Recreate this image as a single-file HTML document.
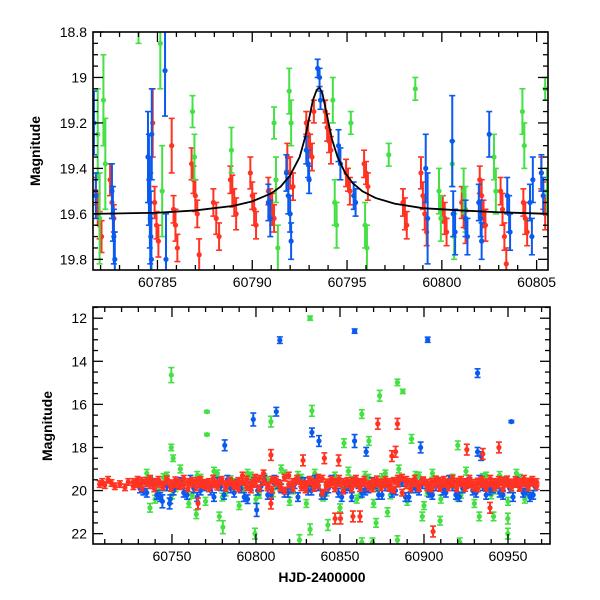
<!DOCTYPE html>
<html><head><meta charset="utf-8"><style>
html,body{margin:0;padding:0;background:#fff;}
svg{display:block;font-family:"Liberation Sans",sans-serif;}
</style></head><body>
<svg id="chart" width="600" height="600" viewBox="0 0 600 600" xmlns="http://www.w3.org/2000/svg">
<g id="top"></g>
<g id="bot"></g>
<text x="40" y="151" transform="rotate(-90 40 151)" text-anchor="middle" font-size="14" font-weight="bold">Magnitude</text>
<text x="52" y="426" transform="rotate(-90 52 426)" text-anchor="middle" font-size="14" font-weight="bold">Magnitude</text>
<text x="322" y="582" text-anchor="middle" font-size="14" font-weight="bold">HJD-2400000</text>
</svg>
<script>
// ---------- TOP PANEL DATA ----------
const topRedT=[60781.75,60781.85,60781.95,60782.05,60782.5,60782.6,60782.7,60784.75,60784.85,60784.95,60785.05,60785.75,60785.85,60785.95,60786.05,60786.8,60786.9,60787.0,60787.1,60787.2,60787.95,60788.1,60788.25,60788.85,60788.95,60789.05,60789.15,60789.9,60790.0,60790.1,60790.2,60790.85,60790.95,60791.05,60791.15,60791.85,60792.0,60792.15,60792.85,60792.95,60793.05,60793.15,60793.25,60793.85,60793.95,60794.05,60794.15,60794.95,60795.05,60795.15,60795.9,60796.0,60796.1,60797.95,60798.05,60798.15,60798.9,60799.0,60799.1,60799.2,60800.05,60800.15,60800.25,60801.05,60801.15,60801.25,60802.0,60802.1,60802.2,60802.3,60803.1,60803.2,60803.3,60803.4,60804.3,60804.4,60804.5,60805.25,60805.35,60805.45];
const topRedM=[19.5,19.58,19.65,19.7,19.45,19.55,19.62,19.2,19.55,19.65,19.72,19.3,19.58,19.65,19.75,19.38,19.45,19.52,19.6,19.78,19.55,19.62,19.7,19.45,19.5,19.55,19.6,19.42,19.52,19.58,19.65,19.5,19.55,19.58,19.62,19.35,19.42,19.48,19.2,19.25,19.3,19.35,19.15,19.15,19.22,19.28,19.32,19.42,19.45,19.5,19.38,19.42,19.48,19.55,19.6,19.65,19.42,19.52,19.6,19.68,19.58,19.62,19.68,19.55,19.6,19.66,19.45,19.52,19.6,19.65,19.5,19.58,19.7,19.82,19.55,19.62,19.68,19.42,19.52,19.6];
const topRedE=[0.06,0.07,0.06,0.07,0.07,0.07,0.06,0.15,0.07,0.06,0.07,0.12,0.06,0.07,0.06,0.07,0.06,0.07,0.06,0.07,0.06,0.07,0.06,0.06,0.07,0.06,0.07,0.07,0.06,0.07,0.06,0.06,0.06,0.07,0.06,0.06,0.07,0.06,0.05,0.06,0.05,0.06,0.05,0.05,0.06,0.05,0.06,0.06,0.05,0.06,0.06,0.05,0.06,0.06,0.07,0.06,0.07,0.06,0.07,0.06,0.06,0.07,0.06,0.07,0.06,0.07,0.06,0.07,0.06,0.07,0.06,0.07,0.06,0.07,0.06,0.07,0.06,0.07,0.06,0.07];
const topBlueT=[60781.65,60781.75,60782.6,60782.65,60782.7,60782.75,60784.5,60784.55,60784.6,60784.62,60784.65,60784.68,60784.7,60785.4,60785.45,60790.85,60790.95,60791.8,60791.9,60792.0,60792.05,60792.85,60792.95,60793.0,60793.45,60793.55,60793.6,60794.55,60794.65,60795.35,60795.45,60799.15,60799.25,60800.55,60800.6,60800.7,60801.25,60801.35,60801.95,60802.05,60802.1,60802.5,60803.45,60803.55,60803.6,60804.65,60804.75,60804.8,60805.25,60805.35];
const topBlueM=[19.2,19.52,19.5,19.6,19.7,19.8,19.35,19.45,19.55,19.62,19.7,19.8,19.25,18.97,19.8,19.55,19.62,19.42,19.52,19.6,19.72,19.32,19.38,19.45,18.96,19.0,19.1,19.3,19.38,19.52,19.55,19.4,19.62,19.28,19.6,19.68,19.62,19.7,19.55,19.62,19.72,19.25,19.52,19.6,19.68,19.55,19.7,19.45,19.42,19.52];
const topBlueE=[0.14,0.1,0.12,0.12,0.12,0.12,0.2,0.2,0.2,0.2,0.2,0.2,0.2,0.2,0.2,0.08,0.08,0.08,0.08,0.08,0.08,0.06,0.06,0.06,0.04,0.04,0.04,0.07,0.07,0.06,0.06,0.15,0.2,0.2,0.1,0.1,0.08,0.08,0.08,0.08,0.08,0.1,0.08,0.08,0.08,0.08,0.08,0.1,0.08,0.08];
const topGreenT=[60781.85,60781.95,60782.15,60782.25,60784.0,60785.15,60785.25,60786.85,60786.95,60788.9,60791.15,60791.25,60791.35,60791.95,60792.05,60794.25,60794.35,60794.45,60795.2,60795.95,60796.05,60797.2,60798.6,60799.85,60799.95,60800.55,60800.65,60801.15,60801.25,60802.75,60802.85,60804.25,60804.35,60805.45,60805.55];
const topGreenM=[19.25,19.62,19.1,19.38,18.75,18.85,19.5,19.15,19.35,19.32,19.2,19.45,19.75,19.06,19.2,19.1,19.55,19.65,19.2,19.65,19.75,19.34,19.05,19.5,19.62,19.38,19.7,19.5,19.58,19.35,19.5,19.15,19.3,19.05,19.5];
const topGreenE=[0.2,0.2,0.2,0.2,0.1,0.2,0.2,0.07,0.1,0.1,0.07,0.1,0.1,0.1,0.1,0.1,0.1,0.1,0.05,0.1,0.1,0.05,0.05,0.1,0.1,0.1,0.1,0.1,0.1,0.1,0.1,0.1,0.1,0.05,0.1];
const curveT=[60781.6,60785,60787,60789,60790,60791,60791.5,60792,60792.5,60792.8,60793.0,60793.2,60793.4,60793.55,60793.7,60793.9,60794.2,60794.5,60794.9,60795.3,60795.8,60796.5,60797.5,60799,60801,60803,60805.7];
const curveM=[19.6,19.595,19.585,19.565,19.545,19.51,19.48,19.43,19.35,19.26,19.18,19.1,19.055,19.045,19.07,19.15,19.27,19.35,19.42,19.465,19.5,19.53,19.555,19.575,19.585,19.593,19.6];
const topXTicks=[60785,60790,60795,60800,60805];
const topYTicks=[18.8,19,19.2,19.4,19.6,19.8];
const topYLabels=["18.8","19","19.2","19.4","19.6","19.8"];

// ---------- BOTTOM PANEL DATA ----------
const redEarlyT=[60707,60708.5,60710,60712,60714,60716,60719,60722,60724];
const redEarlyM=[19.7,19.6,19.75,19.5,19.65,19.8,19.7,19.85,19.6];
const redBandT=[60727,60729.5,60732,60734.5,60737,60739.5,60742,60744.5,60747,60749.5,60752,60754.5,60757,60759.5,60762,60764.5,60767,60769.5,60772,60774.5,60777,60779.5,60782,60784.5,60787,60789.5,60792,60794.5,60797,60799.5,60802,60804.5,60807,60809.5,60812,60814.5,60817,60819.5,60822,60824.5,60827,60829.5,60832,60834.5,60837,60839.5,60842,60844.5,60847,60849.5,60852,60854.5,60857,60859.5,60862,60864.5,60867,60869.5,60872,60874.5,60877,60879.5,60882,60884.5,60887,60889.5,60892,60894.5,60897,60899.5,60902,60904.5,60907,60909.5,60912,60914.5,60917,60919.5,60922,60924.5,60927,60929.5,60932,60934.5,60937,60939.5,60942,60944.5,60947,60949.5,60952,60954.5,60957,60959.5,60962,60964.5,60967];
const redBandA=[19.6,19.7,19.55,19.65,19.75,19.6,19.68,19.72,19.58,19.66,19.7,19.62,19.74,19.6,19.68,19.55,19.7,19.64,19.6,19.72,19.66,19.58,19.7,19.62,19.68,19.55,19.6,19.48,19.65,19.7,19.45,19.6,19.75,19.5,19.62,19.68,19.4,19.72,19.6,19.55,19.66,19.7,19.58,19.62,19.75,19.45,19.62,19.7,19.58,19.66,19.6,19.72,19.55,19.68,19.6,19.64,19.7,19.58,19.66,19.62,19.72,19.6,19.55,19.68,19.4,19.75,19.6,19.66,19.7,19.58,19.64,19.6,19.72,19.55,19.68,19.62,19.7,19.58,19.66,19.6,19.72,19.64,19.58,19.7,19.62,19.66,19.6,19.72,19.55,19.68,19.62,19.7,19.6,19.66,19.58,19.64,19.6];
const redBandB=[19.8,19.5,19.85,19.55,19.45,19.9,19.5,19.82,19.48,19.88,19.52,19.8,19.45,19.9,19.55,19.85,19.5,19.78,19.9,19.45,19.82,19.5,19.88,19.55,19.8,19.9,19.3,19.85,19.95,19.4,19.9,19.2,19.85,19.95,19.5,19.88,20.0,19.3,19.9,19.45,19.85,19.95,19.5,19.88,19.4,20.1,19.85,19.5,19.9,19.45,20.0,19.55,19.9,19.45,19.88,19.5,19.82,19.9,19.48,19.85,19.5,19.88,19.95,19.45,20.1,19.5,19.9,19.45,19.88,19.52,19.85,19.9,19.48,19.88,19.5,19.85,19.45,19.9,19.5,19.88,19.45,19.85,19.9,19.5,19.88,19.45,19.85,19.5,19.9,19.48,19.85,19.5,19.88,19.45,19.85,19.5,19.8];
const redOutT=[60872.5,60884.2,60925.5,60944.6,60935.0,60905.4,60857.7,60861.9,60847.1,60850.3,60808.9,60765.5,60939.3,60808.9,60880.9,60883.1,60849.2,60828.0,60840.7];
const redOutM=[16.9,16.9,18.1,18.0,18.3,21.9,21.2,21.2,21.3,21.3,20.6,20.6,20.8,18.35,18.4,18.2,18.6,18.6,18.5];
const blueBandT=[60731,60735,60739,60743,60747,60751,60755,60759,60763,60767,60771,60775,60779,60783,60787,60791,60795,60799,60803,60807,60811,60815,60819,60823,60827,60831,60835,60839,60843,60847,60851,60855,60859,60863,60867,60871,60875,60879,60883,60887,60891,60895,60899,60903,60907,60911,60915,60919,60923,60927,60931,60935,60939,60943,60947,60951,60955,60959,60963,60966];
const blueBandM=[19.9,20.1,19.7,20.3,19.8,20.0,19.6,20.2,19.9,20.0,19.7,20.3,19.8,19.5,20.1,19.9,20.4,19.6,19.8,20.2,19.5,19.9,20.1,19.7,19.6,20.0,19.5,20.2,19.9,19.7,20.3,19.8,19.6,20.1,19.9,19.7,20.2,19.8,20.0,19.6,20.3,19.9,19.7,20.1,19.8,20.0,19.5,20.2,19.9,19.6,20.1,19.8,20.0,19.7,20.2,19.9,19.6,20.1,20.3,19.8];
const blueBandT2=[60733,60737,60741,60745,60749,60753,60757,60761,60765,60769,60773,60777,60781,60785,60789,60793,60797,60801,60805,60809,60813,60817,60821,60825,60829,60833,60837,60841,60845,60849,60853,60857,60861,60865,60869,60873,60877,60881,60885,60889,60893,60897,60901,60905,60909,60913,60917,60921,60925,60929,60933,60937,60941,60945,60949,60953,60957,60961,60965];
const blueBandM2=[20.0,19.6,20.2,19.8,20.4,19.7,20.1,19.5,20.3,19.8,20.0,19.6,20.2,19.9,19.7,20.3,19.8,20.0,19.5,20.2,19.7,20.1,19.9,20.3,19.6,20.0,19.8,20.2,19.5,20.1,19.9,20.3,19.7,20.0,19.6,20.2,19.8,20.1,19.5,20.3,19.9,20.0,19.7,20.2,19.6,20.1,19.8,20.3,19.7,20.0,19.5,20.2,19.9,20.1,19.6,20.3,19.8,20.0,20.2];
const blueOutT=[60814.2,60858.7,60902.2,60931.9,60952.0,60798.4,60812.1,60781.4,60833.3,60837.5,60858.7,60865.6,60898.0,60931.9,60934.0,60744.3,60748.6,60800.4];
const blueOutM=[13.02,12.6,13.0,14.55,16.8,16.7,16.34,17.9,17.3,17.7,17.7,18.2,18.0,18.2,18.4,20.5,20.6,20.9];
const blueOutE=[0.15,0.1,0.12,0.2,0.05,0.3,0.2,0.25,0.2,0.25,0.3,0.2,0.25,0.2,0.2,0.3,0.25,0.3];
const greenBandT=[60735,60740,60745,60750,60755,60760,60765,60770,60775,60780,60785,60790,60795,60800,60805,60810,60815,60820,60825,60830,60835,60840,60845,60850,60855,60860,60865,60870,60875,60880,60885,60890,60895,60900,60905,60910,60915,60920,60925,60930,60935,60940,60945,60950,60955,60960];
const greenBandM=[19.2,20.4,19.4,20.2,19.0,20.6,19.3,20.5,19.1,20.3,19.5,20.7,19.2,20.4,19.4,20.1,19.0,20.5,19.3,20.6,19.2,20.3,19.5,20.8,19.1,20.4,19.3,20.6,19.4,20.2,19.0,20.5,19.3,20.7,19.2,20.4,19.5,20.3,19.1,20.6,19.4,20.2,19.3,20.5,19.2,20.4];
const greenBandT2=[60737,60742,60747,60752,60757,60762,60767,60772,60777,60782,60787,60792,60797,60802,60807,60812,60817,60822,60827,60832,60837,60842,60847,60852,60857,60862,60867,60872,60877,60882,60887,60892,60897,60902,60907,60912,60917,60922,60927,60932,60937,60942,60947,60952,60957,60962];
const greenBandM2=[19.5,20.0,19.3,19.9,19.6,20.2,19.4,19.8,19.2,20.1,19.6,19.9,19.3,20.2,19.5,19.8,19.2,20.0,19.4,19.9,19.6,20.1,19.3,19.8,19.5,20.2,19.4,19.9,19.2,20.0,19.6,19.8,19.3,20.1,19.5,19.9,19.4,20.2,19.6,19.8,19.3,20.0,19.5,19.9,19.4,20.1];
const greenOutT=[60749.6,60832.2,60770.8,60770.8,60808.9,60833.3,60884.2,60887.4,60873.6,60863.0,60749.6,60750.7,60852.4,60867.2,60892.6,60920.1,60780.3,60799.4,60825.9,60832.2,60863.0,60869.3,60884.2,60921.3,60949.9,60949.9,60871.5,60909.6,60899.0,60941.4,60736.9,60764.5,60778.2,60842.8,60878.3,60932.9];
const greenOutM=[14.64,12.0,16.34,17.4,16.8,16.3,14.98,15.4,15.6,16.45,18.0,18.5,17.8,17.7,17.6,17.9,21.7,22.0,22.3,21.8,22.4,22.4,22.3,22.4,22.0,21.3,21.5,21.4,21.2,21.2,20.8,21.1,21.2,21.6,21.0,21.2];
const greenOutE=[0.35,0.1,0.05,0.05,0.25,0.25,0.15,0.1,0.25,0.2,0.15,0.15,0.2,0.2,0.2,0.2,0.3,0.25,0.25,0.25,0.2,0.2,0.2,0.2,0.25,0.25,0.2,0.2,0.2,0.2,0.2,0.2,0.2,0.25,0.2,0.2];
const botXTicks=[60750,60800,60850,60900,60950];
const botYTicks=[12,14,16,18,20,22];

const RED="#ff3322", BLUE="#0a5af0", GREEN="#44e044";
const NS="http://www.w3.org/2000/svg";
function mk(tag,attrs,parent){const e=document.createElementNS(NS,tag);for(const k in attrs)e.setAttribute(k,attrs[k]);parent.appendChild(e);return e;}

function panel(g,L,R,T,B,x0,x1,y0,y1){
  const X=v=>L+(v-x0)/(x1-x0)*(R-L);
  const Y=v=>T+(v-y0)/(y1-y0)*(B-T);
  const cl=mk('clipPath',{id:g.id+'-clip'},g);
  mk('rect',{x:L,y:T,width:R-L,height:B-T},cl);
  const plot=mk('g',{'clip-path':'url(#'+g.id+'-clip)'},g);
  
  
  return {X,Y,plot,L,R,T,B};
}
function series(P,t,m,e,color,name){
  const g=mk('g',{},P.plot);
  
  
  for(let i=0;i<Math.min(t.length,m.length);i++){
    const x=P.X(t[i]),err=(typeof e==='number')?e:e[i];
    const ya=P.Y(m[i]-err),yb=P.Y(m[i]+err);
    const pt=mk('g',{},g);
    
    
    mk('line',{x1:x,x2:x,y1:ya,y2:yb,stroke:color,'stroke-width':2},pt);
    mk('line',{x1:x-3,x2:x+3,y1:ya,y2:ya,stroke:color,'stroke-width':1.6},pt);
    mk('line',{x1:x-3,x2:x+3,y1:yb,y2:yb,stroke:color,'stroke-width':1.6},pt);
    mk('circle',{cx:x,cy:P.Y(m[i]),r:2.6,fill:color},pt);
  }
}
function frame(g,P,x0,x1,xMinor,xMajorTicks,y0,y1,yMinor,yMajorTicks,yLabels){
  const f=mk('rect',{x:P.L,y:P.T,width:P.R-P.L,height:P.B-P.T,fill:'none',stroke:'#000','stroke-width':1.6},g);
  
  
  const tg=mk('g',{stroke:'#000','stroke-width':1.3},g);
  
  
  const xs=Math.ceil(x0/xMinor)*xMinor;
  for(let v=xs;v<=x1+1e-9;v+=xMinor){
    const major=Math.abs(v/(xMinor*5)-Math.round(v/(xMinor*5)))<1e-6;
    const len=major?10:5,x=P.X(v);
    mk('line',{x1:x,x2:x,y1:P.B,y2:P.B-len},tg);
    mk('line',{x1:x,x2:x,y1:P.T,y2:P.T+len},tg);
  }
  const ys=Math.ceil(Math.min(y0,y1)/yMinor-1e-9)*yMinor;
  for(let v=ys;v<=Math.max(y0,y1)+1e-9;v+=yMinor){
    const major=yMajorTicks.some(t=>Math.abs(t-v)<1e-6);
    const len=major?10:5,y=P.Y(v);
    mk('line',{x1:P.L,x2:P.L+len,y1:y,y2:y},tg);
    mk('line',{x1:P.R,x2:P.R-len,y1:y,y2:y},tg);
  }
  xMajorTicks.forEach(v=>{
    const t=mk('text',{x:P.X(v),y:P.B+17,'text-anchor':'middle','font-size':14},g);
    
    
    t.textContent=String(v);
  });
  yMajorTicks.forEach((v,i)=>{
    const t=mk('text',{x:P.L-6,y:P.Y(v)+5,'text-anchor':'end','font-size':14},g);
    
    
    t.textContent=yLabels?yLabels[i]:String(v);
  });
}

// top panel
const gt=document.getElementById('top');
const PT=panel(gt,93,548,32,270,60781.6,60805.6,18.8,19.847);
series(PT,topRedT,topRedM,topRedE,RED,'red-series');
series(PT,topGreenT,topGreenM,topGreenE,GREEN,'green-series');
series(PT,topBlueT,topBlueM,topBlueE,BLUE,'blue-series');
const cg=mk('polyline',{points:curveT.map((t,i)=>PT.X(t)+','+PT.Y(curveM[i])).join(' '),fill:'none',stroke:'#000','stroke-width':1.8},PT.plot);


frame(gt,PT,60781.6,60805.6,1,topXTicks,18.8,19.847,0.05,topYTicks,topYLabels);

// bottom panel
const gb=document.getElementById('bot');
const PB=panel(gb,93,550,307,544,60703,60975,11.48,22.48);
series(PB,greenBandT,greenBandM,0.18,GREEN,'green-band');
series(PB,greenBandT2,greenBandM2,0.15,GREEN,'green-band-2');
series(PB,greenOutT,greenOutM,greenOutE,GREEN,'green-outliers');
series(PB,blueBandT,blueBandM,0.2,BLUE,'blue-band');
series(PB,blueBandT2,blueBandM2,0.2,BLUE,'blue-band-2');
series(PB,blueOutT,blueOutM,blueOutE,BLUE,'blue-outliers');
series(PB,redEarlyT,redEarlyM,0.15,RED,'red-early');
series(PB,redBandT,redBandA,0.15,RED,'red-band-a');
series(PB,redBandT,redBandB,0.15,RED,'red-band-b');
series(PB,redOutT,redOutM,0.25,RED,'red-outliers');
frame(gb,PB,60703,60975,10,botXTicks,11.48,22.48,0.5,botYTicks,null);
</script>
</body></html>
